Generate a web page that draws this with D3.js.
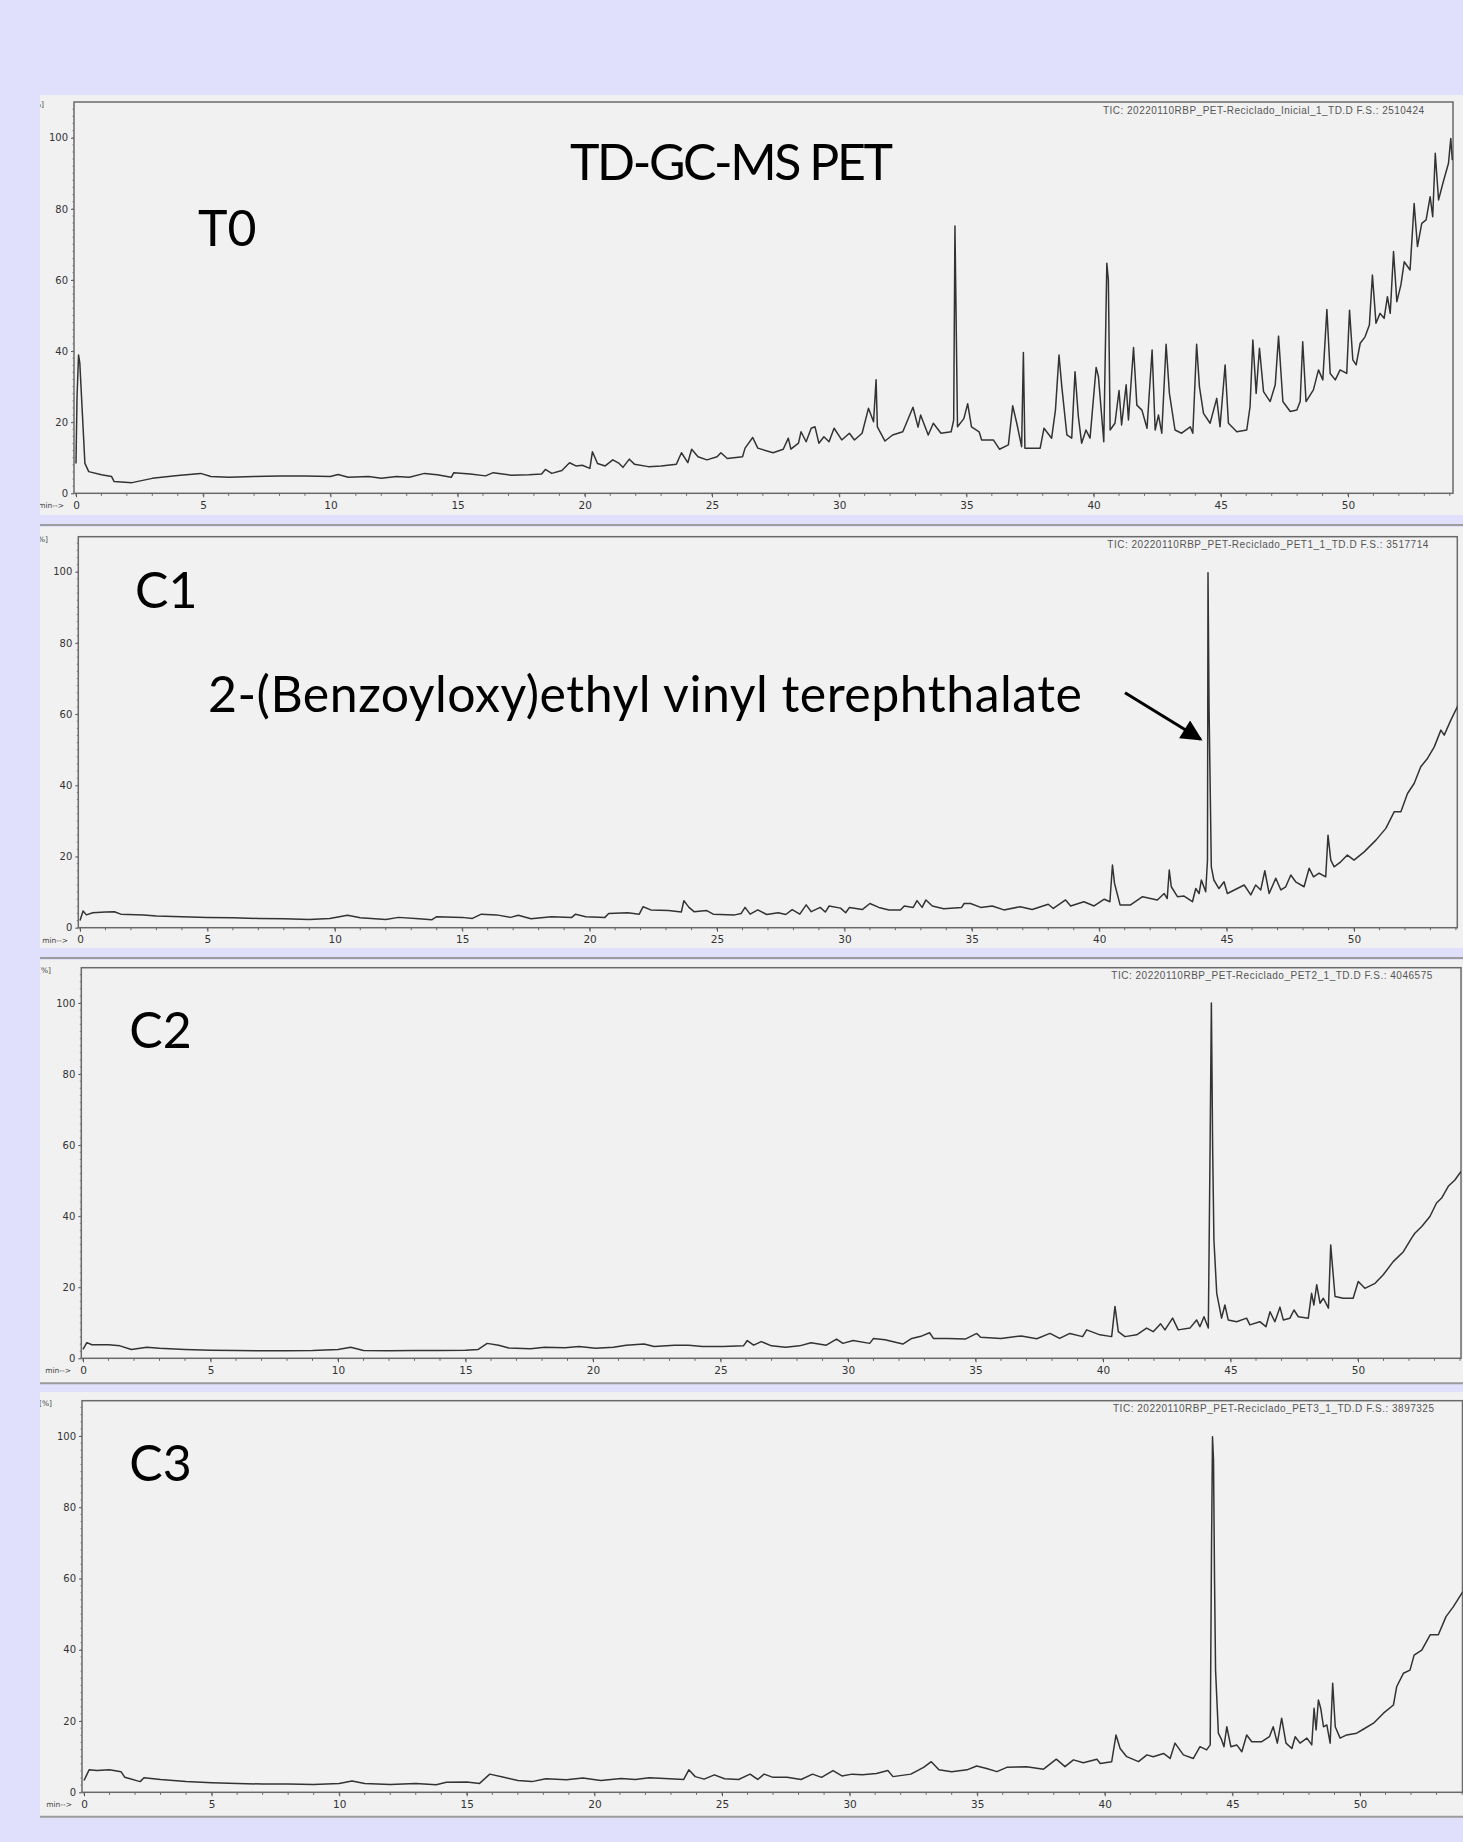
<!DOCTYPE html>
<html>
<head>
<meta charset="utf-8">
<script src="https://cdn.jsdelivr.net/npm/d3@7/dist/d3.min.js"></script>
<style>
  body { margin: 0; background: #e0e0fc; }
  svg { display: block; }
</style>
</head>
<body>
<svg id="chart"></svg>
<script>
var width = 1463;
var height = 1842;

// sample names and instrument header lines
var runNames = ["T0", "C1", "C2", "C3"];
var ticLines = [
  "TIC: 20220110RBP_PET-Reciclado_Inicial_1_TD.D  F.S.: 2510424",
  "TIC: 20220110RBP_PET-Reciclado_PET1_1_TD.D   F.S.: 3517714",
  "TIC: 20220110RBP_PET-Reciclado_PET2_1_TD.D   F.S.: 4046575",
  "TIC: 20220110RBP_PET-Reciclado_PET3_1_TD.D   F.S.: 3897325"
];
var title = "TD-GC-MS PET";
var peakName = "2-(Benzoyloxy)ethyl vinyl terephthalate";

var yTicks = [0, 20, 40, 60, 80, 100];
var xTicks = [0, 5, 10, 15, 20, 25, 30, 35, 40, 45, 50];

// [retention time (min), abundance (%)]
var t0 = [[0,8.4],[0.04,27],[0.1,38.9],[0.15,36.6],[0.25,22.5],[0.35,8.4],[0.5,6.1],[1.0,5.2],[1.4,4.7],[1.5,3.3],[2.2,3.0],[3.0,4.2],[4.0,5.0],[4.9,5.6],[5.3,4.7],[6.0,4.5],[7.0,4.7],[8.0,4.9],[9.0,4.9],[10.0,4.7],[10.3,5.3],[10.7,4.5],[11.5,4.7],[12.0,4.2],[12.6,4.7],[13.1,4.5],[13.7,5.6],[14.2,5.2],[14.75,4.5],[14.85,5.8],[15.5,5.4],[16.1,4.9],[16.4,5.8],[17.1,5.1],[17.8,5.2],[18.3,5.4],[18.45,6.7],[18.7,5.6],[19.1,6.4],[19.4,8.6],[19.65,7.7],[19.9,7.9],[20.2,7.0],[20.3,11.7],[20.5,8.4],[20.8,7.7],[21.1,9.4],[21.35,8.4],[21.5,7.3],[21.75,9.6],[21.95,8.2],[22.5,7.5],[23.0,7.7],[23.6,8.2],[23.8,11.4],[24.05,8.6],[24.2,12.4],[24.45,10.3],[24.8,9.4],[25.2,10.3],[25.35,11.4],[25.6,9.8],[26.2,10.3],[26.3,12.7],[26.6,15.7],[26.8,12.7],[27.4,11.4],[27.8,12.4],[28.0,15.5],[28.1,12.4],[28.4,14.1],[28.5,17.3],[28.7,14.5],[28.9,18.3],[29.05,18.7],[29.2,14.1],[29.4,15.9],[29.6,14.5],[29.8,18.3],[30.1,15.0],[30.4,16.9],[30.6,15.0],[30.9,16.9],[31.15,23.9],[31.35,20.1],[31.45,31.9],[31.5,18.7],[31.8,14.7],[32.1,16.4],[32.5,17.3],[32.9,24.2],[33.1,18.6],[33.2,22],[33.5,16.4],[33.7,19.7],[34.0,16.9],[34.4,17.3],[34.5,20.6],[34.55,75.2],[34.65,18.7],[34.9,21],[35.05,25.2],[35.2,18.7],[35.5,17.3],[35.6,15],[36.06,15],[36.3,12.4],[36.65,13.6],[36.82,24.6],[36.98,19.7],[37.17,13.1],[37.24,39.6],[37.3,12.7],[37.9,12.7],[38.05,18.3],[38.35,15.5],[38.5,23.4],[38.64,38.9],[38.75,30],[38.95,16.4],[39.14,15.5],[39.27,34.2],[39.4,21.6],[39.53,14.1],[39.7,17.8],[39.86,15.5],[40.1,35.4],[40.19,32.8],[40.4,14.5],[40.52,64.7],[40.58,60],[40.65,17.8],[40.84,19.7],[41.0,28.9],[41.1,19.2],[41.28,30.5],[41.37,20.6],[41.57,41],[41.7,24.8],[41.9,23.4],[42.1,18.3],[42.3,40.3],[42.42,17.8],[42.55,22],[42.68,16.9],[42.85,41.9],[42.98,28.1],[43.2,17.8],[43.46,16.9],[43.8,18.7],[43.9,16.9],[44.05,41.9],[44.16,30],[44.32,22.5],[44.58,19.7],[44.84,26.7],[44.97,18.7],[45.17,36.1],[45.3,19.7],[45.63,17.3],[46.02,17.8],[46.15,24.4],[46.26,43.1],[46.39,28.1],[46.52,40.8],[46.68,28.6],[46.94,25.8],[47.14,30.5],[47.27,44.2],[47.44,25.8],[47.73,23],[47.99,23.4],[48.12,25.8],[48.22,42.6],[48.35,25.8],[48.64,29.1],[48.84,34.7],[49.01,31.9],[49.17,51.7],[49.3,33.7],[49.5,31.9],[49.69,34.7],[49.95,33.7],[50.06,51.5],[50.19,37.5],[50.32,36.1],[50.48,42.2],[50.67,44],[50.84,47.3],[50.96,61.4],[51.1,47.8],[51.26,50.6],[51.42,49.2],[51.55,55.3],[51.66,50.6],[51.79,68],[51.92,53.9],[52.08,58.6],[52.21,65.1],[52.44,62.8],[52.6,81.5],[52.73,69.4],[52.9,75.9],[53.07,76.9],[53.23,83.4],[53.33,77.8],[53.43,95.6],[53.56,82.5],[53.73,87.2],[53.95,92.8],[54.04,99.8],[54.1,93.7]];

var c1 = [[0,2.0],[0.12,4.7],[0.25,3.6],[0.5,4.2],[1.0,4.4],[1.35,4.5],[1.6,3.8],[2.5,3.6],[3.0,3.3],[4.0,3.1],[5.0,2.9],[6.0,2.8],[7.0,2.6],[8.0,2.5],[9.0,2.3],[9.8,2.6],[10.5,3.5],[11,2.8],[12,2.3],[12.5,2.9],[13.3,2.5],[13.8,2.2],[14.0,3.1],[15.0,2.9],[15.4,2.6],[15.75,3.8],[16.35,3.6],[16.9,2.9],[17.2,3.5],[17.7,2.5],[18.5,3.1],[19.3,2.9],[19.45,3.8],[19.85,3.1],[20.6,2.9],[20.75,4.0],[21.5,4.2],[21.95,3.8],[22.1,5.9],[22.4,5.0],[23.1,4.8],[23.6,4.4],[23.7,7.6],[23.9,5.7],[24.1,4.5],[24.6,4.8],[24.85,3.8],[25.7,3.6],[25.95,4.0],[26.1,5.7],[26.3,3.8],[26.6,5.0],[26.95,3.7],[27.4,4.2],[27.7,3.7],[27.95,5.1],[28.25,3.8],[28.5,6.4],[28.7,4.5],[29.05,5.7],[29.25,4.4],[29.4,6.1],[29.85,5.5],[30.05,4.2],[30.2,5.7],[30.7,5.1],[31.0,6.8],[31.35,5.7],[31.75,5.0],[32.2,5.0],[32.35,6.1],[32.7,5.7],[32.85,7.6],[33.05,5.7],[33.2,7.8],[33.45,6.1],[33.9,5.3],[34.6,5.7],[34.7,6.8],[34.95,6.8],[35.35,5.7],[35.8,6.1],[36.26,5.0],[36.9,5.9],[37.37,5.1],[38.0,6.6],[38.2,5.4],[38.68,7.8],[38.88,6.1],[39.4,7.3],[39.8,6.1],[40.2,8.0],[40.42,7.3],[40.52,17.6],[40.6,12.5],[40.82,6.4],[41.23,6.4],[41.7,8.7],[42.28,7.8],[42.55,9.6],[42.67,8.2],[42.75,16.2],[42.83,11.5],[43.07,8.7],[43.33,8.9],[43.66,7.3],[43.79,11.0],[43.92,9.6],[44.01,13.4],[44.18,10.1],[44.25,19],[44.27,99.7],[44.31,62.5],[44.4,17.1],[44.5,13.4],[44.7,11],[44.9,12.9],[45.03,9.6],[45.42,11],[45.69,12],[45.95,9.2],[46.14,12],[46.34,10.6],[46.5,16],[46.67,9.6],[46.93,13.9],[47.13,10.6],[47.32,11.5],[47.52,14.8],[47.71,12.9],[48.04,11.5],[48.24,16.7],[48.41,14.3],[48.63,15.3],[48.89,14.3],[48.98,26],[49.09,19],[49.22,17.1],[49.48,18.5],[49.74,20.4],[50.0,19],[50.4,21.3],[50.86,24.6],[51.25,27.9],[51.58,32.6],[51.84,32.6],[52.1,37.7],[52.36,40.5],[52.62,45.2],[52.89,47.6],[53.15,50.8],[53.41,55.5],[53.54,54.1],[53.8,58.3],[54.09,62.5]];

var c2 = [[0,2.5],[0.15,4.4],[0.35,3.8],[1.0,3.8],[1.45,3.5],[1.9,2.5],[2.5,3.1],[3.0,2.8],[4.0,2.5],[5.0,2.3],[6.0,2.2],[7.0,2.1],[8.0,2.1],[9.0,2.2],[10.0,2.5],[10.5,3.1],[11.0,2.2],[12.0,2.1],[13.0,2.2],[14.0,2.2],[15.0,2.3],[15.5,2.5],[15.85,4.2],[16.3,3.7],[16.7,2.9],[17.55,2.7],[18.1,3.1],[18.9,3.0],[19.45,3.3],[20.1,2.8],[20.8,3.1],[21.3,3.7],[22.0,4.0],[22.4,3.3],[23.2,3.7],[23.75,3.7],[24.3,3.3],[25.1,3.3],[25.9,3.5],[26.05,5.0],[26.3,3.7],[26.6,4.7],[27.0,3.5],[27.55,3.1],[28.1,3.5],[28.55,4.4],[29.15,3.7],[29.55,5.4],[29.8,4.2],[30.2,5.0],[30.85,4.2],[31.0,5.6],[31.45,5.2],[32.15,4.0],[32.5,5.6],[32.9,6.3],[33.2,7.2],[33.35,5.6],[33.9,5.6],[34.6,5.4],[35.05,7.0],[35.2,5.9],[36.0,5.6],[36.8,6.3],[37.4,5.5],[37.92,7.0],[38.3,5.6],[38.7,7.0],[39.2,6.1],[39.36,8.0],[39.88,6.6],[40.34,6.1],[40.47,14.6],[40.6,7.5],[40.86,6.1],[41.32,6.6],[41.71,8.5],[41.97,7.5],[42.26,9.7],[42.43,8.0],[42.73,11.3],[42.95,8.0],[43.41,8.5],[43.67,10.8],[43.8,8.9],[43.96,11.7],[44.13,8.5],[44.2,59.6],[44.25,100],[44.3,59],[44.35,33.3],[44.46,18.3],[44.65,11.3],[44.78,15],[44.91,10.8],[45.24,10.3],[45.63,11.3],[45.76,9.4],[46.15,10.3],[46.39,8.9],[46.55,13.1],[46.74,10.3],[46.94,14.4],[47.07,10.8],[47.33,11.3],[47.49,13.6],[47.66,11.7],[48.05,11.3],[48.18,18.3],[48.27,15.0],[48.38,20.7],[48.51,15.5],[48.64,16.9],[48.84,14.1],[48.93,31.9],[49.0,25.8],[49.1,17.4],[49.42,16.9],[49.81,16.9],[50.01,21.6],[50.27,19.7],[50.67,21.1],[50.99,23.5],[51.38,27.2],[51.78,30],[52.1,33.8],[52.23,35.2],[52.5,37.1],[52.82,39.9],[53.08,43.7],[53.28,45.1],[53.54,48.4],[53.8,50.2],[54.04,52.6]];

var c3 = [[0,3.3],[0.2,6.3],[0.5,6.1],[1.0,6.3],[1.45,5.8],[1.6,4.2],[2.2,3.0],[2.35,4.1],[3.0,3.6],[4.0,3.0],[5.0,2.7],[6.0,2.5],[7.0,2.3],[8.0,2.3],[9.0,2.2],[10.0,2.5],[10.5,3.2],[11.0,2.5],[12.0,2.2],[13.0,2.5],[13.8,2.1],[14.2,2.8],[15.0,2.9],[15.5,2.5],[15.9,5.1],[16.45,4.2],[17.0,3.3],[17.55,3.0],[18.1,3.8],[18.9,3.5],[19.55,4.0],[20.25,3.3],[21.05,3.9],[21.6,3.6],[22.15,4.1],[22.95,3.8],[23.5,3.6],[23.7,6.3],[23.95,4.4],[24.3,3.7],[24.7,4.9],[25.1,3.8],[25.65,3.6],[26.1,5.1],[26.4,3.6],[26.65,5.1],[27.0,4.2],[27.55,4.2],[28.1,3.6],[28.55,5.1],[28.9,4.2],[29.35,6.1],[29.7,4.6],[30.1,5.1],[30.5,4.9],[31.05,5.3],[31.5,6.1],[31.7,4.4],[32.4,5.1],[32.9,7.0],[33.2,8.6],[33.5,6.3],[34.0,5.8],[34.6,6.3],[34.98,7.4],[35.37,6.7],[35.77,5.8],[36.16,7.0],[36.94,7.2],[37.6,6.5],[38.1,9.3],[38.44,7.2],[38.77,9.1],[39.16,8.3],[39.69,9.3],[39.82,8.1],[40.27,8.6],[40.44,16.1],[40.6,12.3],[40.86,10.0],[41.32,8.6],[41.65,10.5],[41.9,10.0],[42.3,10.9],[42.56,9.5],[42.75,13.8],[43.08,10.5],[43.47,9.5],[43.73,12.8],[43.99,11.9],[44.13,13.3],[44.18,67.1],[44.22,99.8],[44.26,93.3],[44.3,59.6],[44.34,34.3],[44.45,16.6],[44.58,14.7],[44.67,12.8],[44.78,18.4],[44.94,12.8],[45.17,13.3],[45.37,11.4],[45.56,16.1],[45.76,14.2],[46.15,14.2],[46.45,15.6],[46.6,18.4],[46.76,13.8],[46.93,20.8],[47.1,13.8],[47.33,12.3],[47.46,15.6],[47.65,13.8],[47.92,15.2],[48.11,13.3],[48.2,23.6],[48.28,17.5],[48.37,25.9],[48.46,23.6],[48.57,18.4],[48.7,18.9],[48.83,13.8],[48.93,30.6],[49.03,18.4],[49.22,15.2],[49.48,16.1],[49.87,16.6],[50.13,17.7],[50.53,19.4],[50.92,22.2],[51.31,24.5],[51.44,29.7],[51.7,33.4],[51.96,34.3],[52.12,38.5],[52.42,39.9],[52.75,44.2],[53.07,44.2],[53.37,49.3],[53.66,52.1],[54.03,56.3]];

var traces = [t0, c1, c2, c3];

// each pasted screenshot panel sits at a slightly different offset
var panels = [
  {top: 95,   bot: 515,  fl: 74,   ft: 102,   fr: 1453,   x0: 76, x50: 1348, y0: 493.3,  y100: 137.7, lab: [198, 245.7],   ticY: 114,  pctX: 44},
  {top: 527,  bot: 948,  fl: 78.3, ft: 536.7, fr: 1457.3, x0: 80, x50: 1354, y0: 927.7,  y100: 571.7, lab: [135, 608.3],   ticY: 548,  pctX: 48},
  {top: 960,  bot: 1382, fl: 81.3, ft: 967.7, fr: 1461,   x0: 83, x50: 1358, y0: 1358.3, y100: 1003,  lab: [129.3, 1048.3], ticY: 979,  pctX: 51},
  {top: 1392, bot: 1816, fl: 82,   ft: 1400.7, fr: 1462.5, x0: 84, x50: 1360, y0: 1792.3, y100: 1436,  lab: [129.3, 1480.7], ticY: 1412, pctX: 52}
];
var ticRight = [1424, 1428.3, 1432.3, 1434];

var svg = d3.select("#chart")
    .attr("width", width)
    .attr("height", height);

svg.append("rect")
    .attr("width", width).attr("height", height)
    .attr("fill", "#e0e0fc");

var defs = svg.append("defs");
defs.append("marker")
    .attr("id", "arrowhead")
    .attr("viewBox", "0 0 10 10")
    .attr("refX", 9).attr("refY", 5)
    .attr("markerWidth", 8).attr("markerHeight", 7)
    .attr("markerUnits", "strokeWidth")
    .attr("orient", "auto")
  .append("path")
    .attr("d", "M0,0 L10,5 L0,10 Z")
    .attr("fill", "#000");

panels.forEach(function(p, i) {
  var x = d3.scaleLinear().domain([0, 50]).range([p.x0, p.x50]);
  var y = d3.scaleLinear().domain([0, 100]).range([p.y0, p.y100]);

  defs.append("clipPath").attr("id", "pclip" + i)
    .append("rect")
      .attr("x", 40).attr("y", p.top)
      .attr("width", width - 40).attr("height", p.bot - p.top);
  defs.append("clipPath").attr("id", "fclip" + i)
    .append("rect")
      .attr("x", p.fl).attr("y", p.ft)
      .attr("width", p.fr - p.fl).attr("height", p.y0 - p.ft);

  var g = svg.append("g").attr("clip-path", "url(#pclip" + i + ")");

  g.append("rect")
      .attr("x", 40).attr("y", p.top)
      .attr("width", width - 40).attr("height", p.bot - p.top)
      .attr("fill", "#f1f1f1");

  // frame
  g.append("rect")
      .attr("x", p.fl).attr("y", p.ft)
      .attr("width", p.fr - p.fl).attr("height", p.y0 - p.ft)
      .attr("fill", "none")
      .attr("stroke", "#6a6a6a")
      .attr("stroke-width", 1.5);

  // y axis
  var yAxis = d3.axisLeft(y)
      .tickValues(yTicks)
      .tickSize(3)
      .tickPadding(3);
  var ya = g.append("g")
      .attr("transform", "translate(" + p.fl + ",0)")
      .call(yAxis);
  ya.select(".domain").remove();
  ya.selectAll("line").attr("stroke", "#555");
  ya.selectAll("text")
      .attr("fill", "#333")
      .style("font-family", "DejaVu Sans, Verdana, sans-serif")
      .style("font-size", "10px");
  g.append("g").selectAll("line")
      .data(d3.range(0, 110, 2))
      .enter().append("line")
      .attr("x1", p.fl - 1.5).attr("x2", p.fl)
      .attr("y1", function(d) { return y(d); })
      .attr("y2", function(d) { return y(d); })
      .attr("stroke", "#777");

  // x axis
  var xAxis = d3.axisBottom(x)
      .tickValues(xTicks)
      .tickSize(4)
      .tickPadding(4);
  var xa = g.append("g")
      .attr("transform", "translate(0," + p.y0 + ")")
      .call(xAxis);
  xa.select(".domain").remove();
  xa.selectAll("line").attr("stroke", "#555");
  xa.selectAll("text")
      .attr("fill", "#333")
      .style("font-family", "DejaVu Sans, Verdana, sans-serif")
      .style("font-size", "10.5px");
  g.append("g").selectAll("line")
      .data(d3.range(0, 55, 1))
      .enter().append("line")
      .attr("x1", function(d) { return x(d); })
      .attr("x2", function(d) { return x(d); })
      .attr("y1", p.y0).attr("y2", p.y0 + 2.5)
      .attr("stroke", "#666");

  g.append("text")
      .attr("x", p.x0 - 12).attr("y", p.y0 + 15)
      .attr("text-anchor", "end")
      .attr("fill", "#444")
      .style("font-family", "DejaVu Sans, Verdana, sans-serif")
      .style("font-size", "7.5px")
      .text("min-->");
  g.append("text")
      .attr("x", p.pctX).attr("y", p.ft + 5)
      .attr("text-anchor", "end")
      .attr("fill", "#444")
      .style("font-family", "DejaVu Sans, Verdana, sans-serif")
      .style("font-size", "7.5px")
      .text("[%]");

  g.append("text")
      .attr("x", ticRight[i]).attr("y", p.ticY)
      .attr("text-anchor", "end")
      .attr("fill", "#555")
      .attr("textLength", 321)
      .style("font-family", "Liberation Sans, Arial, sans-serif")
      .style("font-size", "10px")
      .text(ticLines[i]);

  var line = d3.line()
      .x(function(d) { return x(d[0]); })
      .y(function(d) { return y(d[1]); });

  g.append("path")
      .datum(traces[i])
      .attr("clip-path", "url(#fclip" + i + ")")
      .attr("d", line)
      .attr("fill", "none")
      .attr("stroke", "#333")
      .attr("stroke-width", 1.5)
      .attr("stroke-linejoin", "round");

  svg.append("text")
      .attr("x", p.lab[0]).attr("y", p.lab[1])
      .attr("fill", "#000")
      .style("font-family", "Lato, 'Open Sans', sans-serif")
      .style("font-size", "50px")
      .text(runNames[i]);
});

// separators between the pasted panels
[525, 958, 1383.3, 1816.7].forEach(function(yy) {
  svg.append("line")
      .attr("x1", 40).attr("x2", width)
      .attr("y1", yy).attr("y2", yy)
      .attr("stroke", "#9c9c9c")
      .attr("stroke-width", 2);
});

svg.append("text")
    .attr("x", 570).attr("y", 180)
    .attr("textLength", 323)
    .style("font-family", "Lato, 'Open Sans', sans-serif")
    .style("font-size", "50px")
    .text(title);

svg.append("text")
    .attr("x", 208).attr("y", 711.7)
    .attr("textLength", 874)
    .style("font-family", "Lato, 'Open Sans', sans-serif")
    .style("font-size", "50px")
    .text(peakName);

svg.append("line")
    .attr("x1", 1125).attr("y1", 692.7)
    .attr("x2", 1200.7).attr("y2", 739.3)
    .attr("stroke", "#000")
    .attr("stroke-width", 3)
    .attr("marker-end", "url(#arrowhead)");
</script>
</body>
</html>
